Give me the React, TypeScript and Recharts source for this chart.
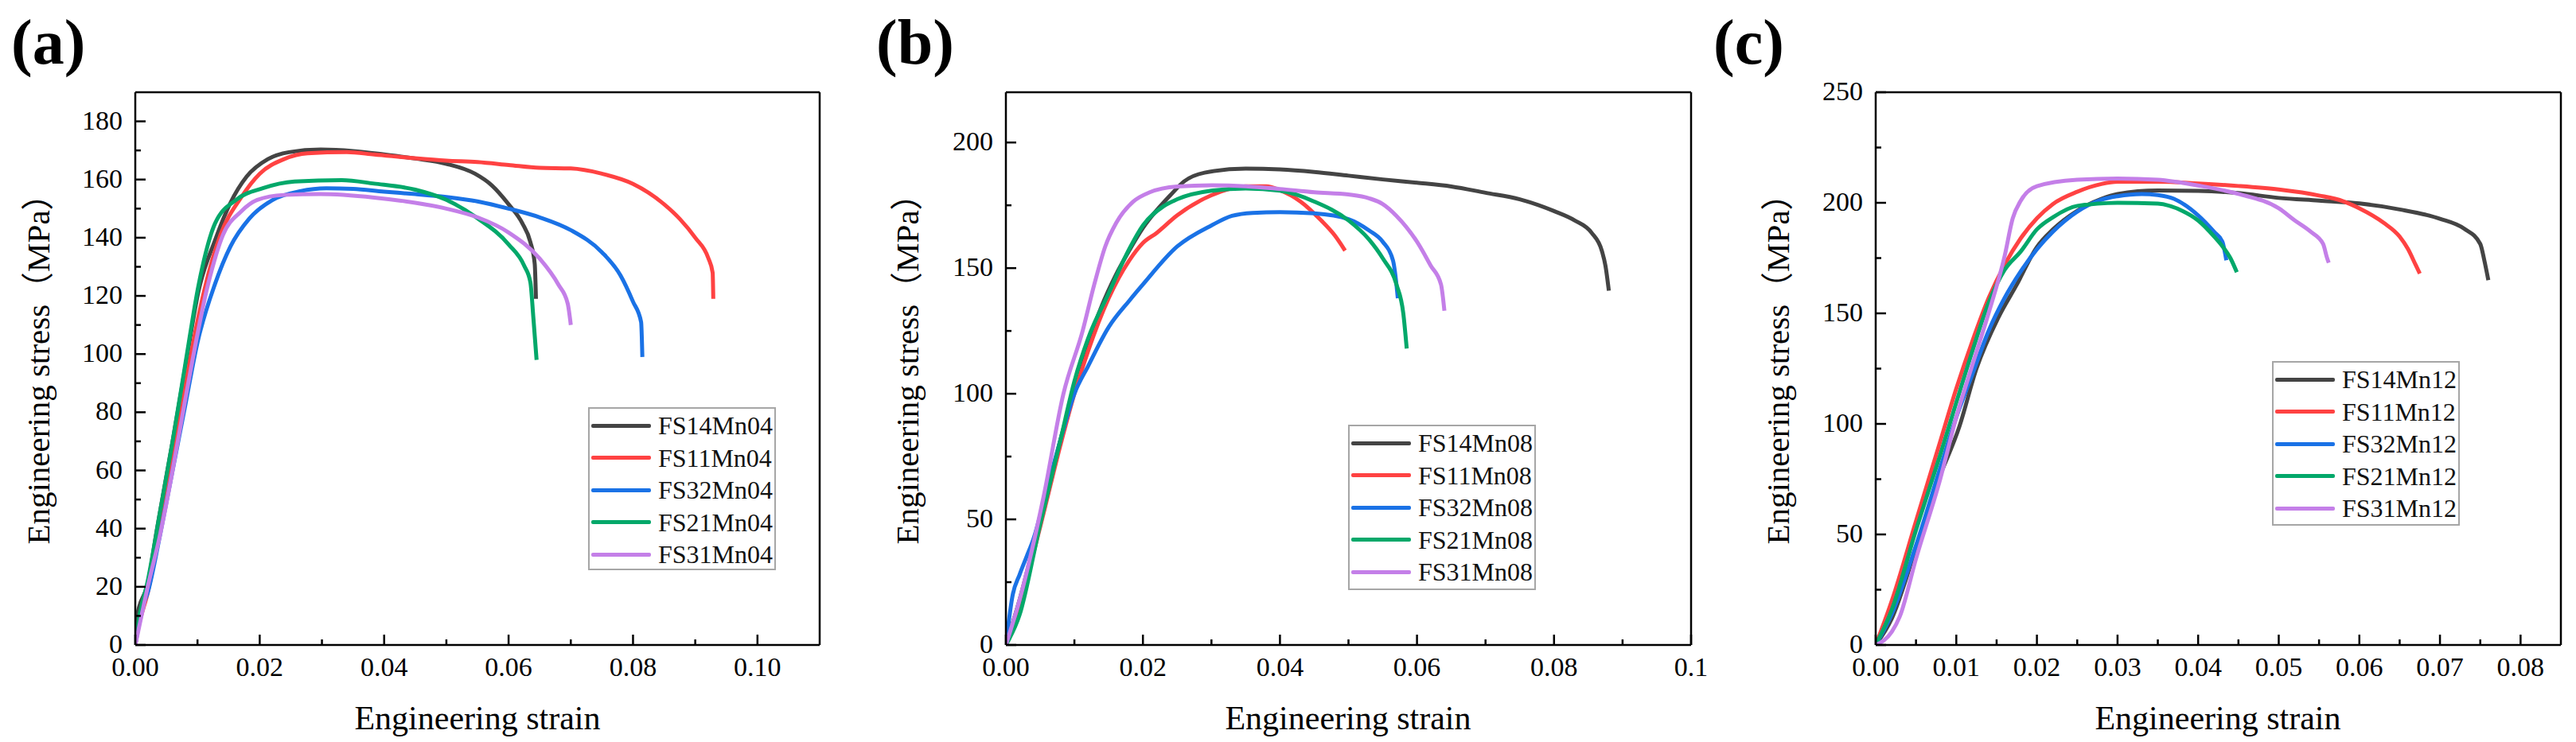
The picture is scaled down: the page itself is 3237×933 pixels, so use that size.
import React from "react";
import { LineChart, Line, XAxis, YAxis, ReferenceLine, Legend } from "recharts";

type Pt = [number, number];

const SERIF = '"Times New Roman", "Liberation Serif", serif';
const CJK = '"Noto Sans CJK SC", "Noto Sans CJK JP", sans-serif';
const COLORS = ["#444444", "#ff4242", "#1a72e6", "#03a86a", "#c47fe8"];

// ---- (a) Mn04 ----
const fs14Mn04: Pt[] = [[0,0],[0.0003,10],[0.002,21],[0.0035,40],[0.006,70],[0.008,95],[0.0102,122],[0.0128,139],[0.0153,152],[0.0179,161],[0.0213,167],[0.0247,169.4],[0.0298,170.3],[0.035,169.8],[0.04,168.6],[0.045,167.2],[0.05,165.4],[0.0546,162],[0.0573,158],[0.06,151.5],[0.0622,145],[0.0635,138.5],[0.0642,131],[0.0644,119]];
const fs11Mn04: Pt[] = [[0,0],[0.0005,6],[0.002,18],[0.004,40],[0.006,64],[0.008,89],[0.0111,122],[0.0137,141],[0.017,153.8],[0.02,162],[0.0239,167],[0.0277,169],[0.034,169.4],[0.0384,168.6],[0.045,167.3],[0.05,166.5],[0.055,166],[0.06,165],[0.065,164],[0.07,163.8],[0.075,162],[0.08,158.5],[0.085,151.5],[0.0875,146.5],[0.09,140],[0.0921,133],[0.0928,128],[0.0929,119]];
const fs32Mn04: Pt[] = [[0,0],[0.001,12],[0.002,18],[0.004,38],[0.006,60],[0.008,82],[0.01,104],[0.0128,124],[0.0153,137],[0.0183,146.5],[0.0221,153],[0.0265,156],[0.0307,157],[0.035,156.8],[0.04,155.8],[0.045,155],[0.05,154],[0.055,152.5],[0.06,150],[0.065,147],[0.07,142.6],[0.075,135],[0.078,127],[0.08,118],[0.0813,111],[0.0815,99]];
const fs21Mn04: Pt[] = [[0,0],[0.0005,8],[0.002,22],[0.004,46],[0.006,70],[0.008,96],[0.0102,124],[0.0128,144.8],[0.0162,153],[0.0205,157],[0.0256,159.3],[0.0332,159.8],[0.0384,158.6],[0.045,156.5],[0.05,153],[0.055,146.7],[0.06,137.7],[0.0625,130.4],[0.0635,124.7],[0.064,112],[0.0645,98]];
const fs31Mn04: Pt[] = [[0,0],[0.0005,5],[0.002,20],[0.004,38],[0.006,60],[0.008,84],[0.0117,124],[0.0141,141],[0.017,149],[0.0196,153],[0.0239,154.7],[0.0298,155],[0.0384,153.8],[0.045,152],[0.05,150],[0.055,147],[0.06,141.8],[0.065,132.8],[0.068,123.9],[0.0695,117.4],[0.07,110]];

// ---- (b) Mn08 ----
const fs14Mn08: Pt[] = [[0,0],[0.002,18],[0.005,50],[0.008,82],[0.01,102],[0.012,120],[0.014,135],[0.016,147],[0.018,157],[0.02,166],[0.022,173],[0.024,179],[0.026,184.5],[0.029,188],[0.035,189.6],[0.04,189.3],[0.045,188.3],[0.05,186.8],[0.055,185.3],[0.06,184],[0.065,182.5],[0.07,180],[0.075,177.4],[0.08,172.7],[0.083,169],[0.0855,164],[0.087,156.7],[0.0875,151],[0.088,141]];
const fs11Mn08: Pt[] = [[0,0],[0.002,16],[0.005,47],[0.008,80],[0.01,100],[0.012,117],[0.015,138],[0.018,153],[0.02,160],[0.022,164],[0.025,171],[0.03,179],[0.035,182.6],[0.038,182.6],[0.04,181],[0.043,176.5],[0.046,169],[0.048,163],[0.0495,157]];
const fs32Mn08: Pt[] = [[0,0],[0.001,20],[0.002,28],[0.003,35],[0.004,42],[0.006,62],[0.008,82],[0.01,100],[0.012,111],[0.015,126.5],[0.018,137],[0.02,143.5],[0.025,158.6],[0.03,167],[0.033,170.8],[0.036,172],[0.04,172.3],[0.045,171.8],[0.05,169.5],[0.053,165],[0.055,160.5],[0.0565,153],[0.057,143.5],[0.0572,138]];
const fs21Mn08: Pt[] = [[0,0],[0.002,12],[0.005,48],[0.008,82],[0.01,105],[0.012,122],[0.015,140],[0.018,157.6],[0.02,167],[0.023,174.6],[0.025,177.4],[0.03,180.8],[0.035,181.7],[0.04,180.8],[0.045,176.5],[0.05,169],[0.053,161.4],[0.055,153.9],[0.057,143.5],[0.058,132],[0.0585,118]];
const fs31Mn08: Pt[] = [[0,0],[0.002,18],[0.0055,59],[0.0084,100],[0.0112,125],[0.0129,143.5],[0.0145,158.6],[0.0161,168],[0.0186,176.5],[0.021,180.2],[0.025,182.5],[0.03,183],[0.035,182.6],[0.04,181.5],[0.045,180.2],[0.05,179.3],[0.053,177.8],[0.055,175.5],[0.057,170.8],[0.06,160.5],[0.062,151],[0.0635,143.5],[0.064,133]];

// ---- (c) Mn12 ----
const fs14Mn12: Pt[] = [[0,0],[0.002,12],[0.005,44],[0.0075,72],[0.0104,99],[0.0125,125],[0.0152,148],[0.0175,163],[0.02,180],[0.022,188],[0.025,196.4],[0.028,201.8],[0.03,204],[0.035,205.6],[0.04,205.4],[0.045,204.4],[0.05,202.2],[0.055,201],[0.06,199.7],[0.065,197],[0.07,192.8],[0.073,188.3],[0.075,181.4],[0.0755,174],[0.076,165]];
const fs11Mn12: Pt[] = [[0,0],[0.002,20],[0.005,56],[0.008,92],[0.01,116],[0.012,137.5],[0.014,156.8],[0.016,172],[0.018,184],[0.02,193],[0.022,199.5],[0.025,205],[0.028,208.5],[0.03,209.5],[0.035,209.5],[0.04,208.7],[0.045,207.6],[0.05,206],[0.055,203.3],[0.058,200.7],[0.06,197.5],[0.063,191],[0.065,184.7],[0.066,179.3],[0.067,171.8],[0.0675,168]];
const fs32Mn12: Pt[] = [[0,0],[0.002,14],[0.005,45],[0.008,80],[0.01,103],[0.012,122.5],[0.014,142],[0.016,157],[0.018,169],[0.02,179],[0.022,187],[0.025,196],[0.028,201.4],[0.03,203],[0.033,204],[0.035,203.5],[0.037,201.8],[0.04,194.3],[0.042,186.8],[0.043,182.5],[0.0435,174]];
const fs21Mn12: Pt[] = [[0,0],[0.002,16],[0.005,52],[0.008,86],[0.01,109.7],[0.012,133],[0.014,154.7],[0.016,169.7],[0.018,178],[0.02,188],[0.022,193.5],[0.025,198.6],[0.03,200],[0.035,199.6],[0.038,196.4],[0.04,192],[0.042,184.7],[0.043,180.4],[0.044,175],[0.0448,168.6]];
const fs31Mn12: Pt[] = [[0,0],[0.001,2],[0.002,6],[0.003,13],[0.005,39],[0.008,75],[0.01,103],[0.012,126.8],[0.014,150],[0.016,176],[0.017,193],[0.018,201],[0.02,207.5],[0.025,210.4],[0.03,211],[0.035,210.4],[0.04,207.8],[0.045,204],[0.05,197.5],[0.052,192],[0.054,186.8],[0.0555,181.4],[0.056,175],[0.0562,172.9]];

const namesA = ["FS14Mn04", "FS11Mn04", "FS32Mn04", "FS21Mn04", "FS31Mn04"];
const namesB = ["FS14Mn08", "FS11Mn08", "FS32Mn08", "FS21Mn08", "FS31Mn08"];
const namesC = ["FS14Mn12", "FS11Mn12", "FS32Mn12", "FS21Mn12", "FS31Mn12"];

// ticks
const xMajorA = [0, 0.02, 0.04, 0.06, 0.08, 0.1];
const xMinorA = [0.01, 0.03, 0.05, 0.07, 0.09];
const xLabelsA = ["0.00", "0.02", "0.04", "0.06", "0.08", "0.10"];
const yMajorA = [0, 20, 40, 60, 80, 100, 120, 140, 160, 180];
const yMinorA = [10, 30, 50, 70, 90, 110, 130, 150, 170];

const xMajorB = [0, 0.02, 0.04, 0.06, 0.08, 0.1];
const xMinorB = [0.01, 0.03, 0.05, 0.07, 0.09];
const xLabelsB = ["0.00", "0.02", "0.04", "0.06", "0.08", "0.1"];
const yMajorB = [0, 50, 100, 150, 200];
const yMinorB = [25, 75, 125, 175];

const xMajorC = [0, 0.01, 0.02, 0.03, 0.04, 0.05, 0.06, 0.07, 0.08];
const xMinorC = [0.005, 0.015, 0.025, 0.035, 0.045, 0.055, 0.065, 0.075];
const xLabelsC = ["0.00", "0.01", "0.02", "0.03", "0.04", "0.05", "0.06", "0.07", "0.08"];
const yMajorC = [0, 50, 100, 150, 200, 250];
const yMinorC = [25, 75, 125, 175, 225];

const toRows = (pts: Pt[]) => pts.map(([x, y]) => ({ x, y }));

const panels = [
  {
    letter: "(a)", left: 0, width: 1079, letterX: 14,
    margin: { top: 116, right: 49, bottom: 22, left: 50 },
    xDomain: [0, 0.11], yDomain: [0, 190],
    xMajor: xMajorA, xMinor: xMinorA, xLabels: xLabelsA, yMajor: yMajorA, yMinor: yMinorA,
    series: [fs14Mn04, fs11Mn04, fs32Mn04, fs21Mn04, fs31Mn04], names: namesA,
    legend: { left: 739, top: 512, height: 205 }, yTitleX: 62, xTitleX: 600,
  },
  {
    letter: "(b)", left: 1079, width: 1079, letterX: 22,
    margin: { top: 116, right: 33, bottom: 22, left: 65 },
    xDomain: [0, 0.1], yDomain: [0, 220],
    xMajor: xMajorB, xMinor: xMinorB, xLabels: xLabelsB, yMajor: yMajorB, yMinor: yMinorB,
    series: [fs14Mn08, fs11Mn08, fs32Mn08, fs21Mn08, fs31Mn08], names: namesB,
    legend: { left: 615, top: 534, height: 208 }, yTitleX: 75, xTitleX: 615,
  },
  {
    letter: "(c)", left: 2158, width: 1079, letterX: -5,
    margin: { top: 116, right: 19, bottom: 22, left: 79 },
    xDomain: [0, 0.085], yDomain: [0, 250],
    xMajor: xMajorC, xMinor: xMinorC, xLabels: xLabelsC, yMajor: yMajorC, yMinor: yMinorC,
    series: [fs14Mn12, fs11Mn12, fs32Mn12, fs21Mn12, fs31Mn12], names: namesC,
    legend: { left: 697, top: 454, height: 207 }, yTitleX: 90, xTitleX: 629,
  },
];

type PanelCfg = (typeof panels)[number];

const near = (arr: number[], v: number) => arr.findIndex((m) => Math.abs(m - v) < 1e-9);

// axis titles ignore the props Recharts injects and sit at fixed spots
const XTitle = ({ p }: { p: PanelCfg }) => (
  <text x={p.xTitleX} y={917} textAnchor="middle" fontSize={42} fontFamily={SERIF} fill="#000">
    Engineering strain
  </text>
);

const YTitle = ({ p }: { p: PanelCfg }) => (
  <text
    x={p.yTitleX} y={454} transform={`rotate(-90 ${p.yTitleX} 454)`} textAnchor="middle"
    fontSize={41} fontFamily={SERIF} fill="#000"
  >
    Engineering stress<tspan fontFamily={CJK}>（</tspan>MPa<tspan fontFamily={CJK}>）</tspan>
  </text>
);

function Panel({ p }: { p: PanelCfg }) {
  const xTick = (props: any) => {
    const { x, y, payload } = props;
    const i = near(p.xMajor, payload.value);
    return (
      <g>
        <line x1={x} x2={x} y1={y} y2={y - (i >= 0 ? 13 : 7)} stroke="#000" strokeWidth={2.5} />
        {i >= 0 && (
          <text x={x} y={y + 39} textAnchor="middle" fontSize={34} fontFamily={SERIF} fill="#000">
            {p.xLabels[i]}
          </text>
        )}
      </g>
    );
  };
  const yTick = (props: any) => {
    const { x, y, payload } = props;
    const major = near(p.yMajor, payload.value) >= 0;
    return (
      <g>
        <line x1={x} x2={x + (major ? 13 : 7)} y1={y} y2={y} stroke="#000" strokeWidth={2.5} />
        {major && (
          <text x={x - 16} y={y + 10} textAnchor="end" fontSize={34} fontFamily={SERIF} fill="#000">
            {payload.value}
          </text>
        )}
      </g>
    );
  };
  const legendBox = () => (
    <div
      style={{
        width: 236, height: p.legend.height, boxSizing: "border-box", border: "2px solid #a6a6a6",
        background: "#fff", position: "relative",
      }}
    >
      {p.names.map((n, i) => (
        <div key={n} style={{ position: "absolute", left: 2, top: 1 + i * 40.5, height: 40, display: "flex", alignItems: "center" }}>
          <span style={{ display: "inline-block", width: 75, height: 5, background: COLORS[i], borderRadius: 2 }} />
          <span style={{ marginLeft: 9, fontSize: 32, lineHeight: "40px", fontFamily: SERIF, color: "#111" }}>{n}</span>
        </div>
      ))}
    </div>
  );
  return (
    <div style={{ position: "absolute", left: p.left, top: 0, width: p.width, height: 933 }}>
      <div style={{ position: "absolute", left: p.letterX, top: 13, fontFamily: SERIF, fontWeight: "bold", fontSize: 80, lineHeight: "80px", zIndex: 2 }}>
        {p.letter}
      </div>
      <LineChart width={p.width} height={933} margin={p.margin}>
        <XAxis
          type="number" dataKey="x" domain={p.xDomain} allowDataOverflow
          ticks={[...p.xMajor, ...p.xMinor].sort((a, b) => a - b)} interval={0}
          tickSize={0} tickMargin={0} tickLine={false} tick={xTick} height={100}
          axisLine={{ stroke: "#000", strokeWidth: 2.5 }}
          label={<XTitle p={p} />}
        />
        <YAxis
          type="number" domain={p.yDomain} allowDataOverflow
          ticks={[...p.yMajor, ...p.yMinor].sort((a, b) => a - b)} interval={0}
          tickSize={0} tickMargin={0} tickLine={false} tick={yTick} width={120}
          axisLine={{ stroke: "#000", strokeWidth: 2.5 }}
          label={<YTitle p={p} />}
        />
        <ReferenceLine y={p.yDomain[1]} stroke="#000" strokeWidth={2.5} />
        <ReferenceLine x={p.xDomain[1]} stroke="#000" strokeWidth={2.5} />
        {p.series.map((s, i) => (
          <Line
            key={p.names[i]} name={p.names[i]} data={toRows(s)} dataKey="y" type="monotone"
            stroke={COLORS[i]} strokeWidth={5} dot={false} strokeLinejoin="round"
            isAnimationActive={false}
          />
        ))}
        <Legend
          layout="vertical" align="center" verticalAlign="middle" content={legendBox}
          wrapperStyle={{ position: "absolute", left: p.legend.left, top: p.legend.top, width: 236 }}
        />
      </LineChart>
    </div>
  );
}

export default function App() {
  return (
    <div style={{ position: "absolute", left: 0, top: 0, width: 3237, height: 933, background: "#fff", overflow: "hidden" }}>
      {panels.map((p) => (
        <Panel key={p.letter} p={p} />
      ))}
    </div>
  );
}
